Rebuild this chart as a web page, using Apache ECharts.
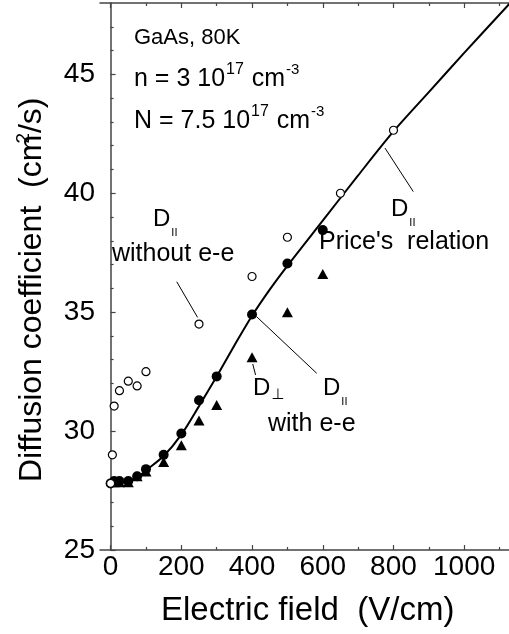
<!DOCTYPE html>
<html><head><meta charset="utf-8">
<script src="https://cdn.jsdelivr.net/npm/echarts@6/dist/echarts.min.js"></script>
<style>html,body{margin:0;padding:0;background:#fff}#c{width:509px;height:634px}</style>
</head><body><div id="c"></div>
<script>
// ---- data ----
const xMajorTicks = [0, 200, 400, 600, 800, 1000];
const xMinorTicks = [100, 300, 500, 700, 900, 1100];
const yMajorTicks = [25, 30, 35, 40, 45];
const yMinorTicks = [26,27,28,29,31,32,33,34,36,37,38,39,41,42,43,44,46,47];

const fieldNoEE = [0, 5, 10, 25, 50, 75, 100, 250, 400, 500, 650, 800];
const dParNoEE  = [27.8, 29.0, 31.05, 31.7, 32.1, 31.9, 32.5, 34.5, 36.5, 38.15, 40.0, 42.65];

const fieldParEE = [0, 10, 25, 50, 75, 100, 150, 200, 250, 300, 400, 500, 600];
const dParEE     = [27.8, 27.9, 27.9, 27.9, 28.1, 28.4, 29.0, 29.9, 31.3, 32.3, 34.9, 37.05, 38.45];

const fieldPerpEE = [10, 25, 50, 75, 100, 150, 200, 250, 300, 400, 500, 600];
const dPerpEE     = [27.85, 27.85, 27.85, 28.1, 28.3, 28.7, 29.4, 30.45, 31.1, 33.1, 35.0, 36.6];

const fieldPrice = [0, 25, 50, 75, 100, 150, 200, 250, 300, 350, 400, 450, 500, 600, 700, 800, 900, 1000, 1130];
const dPrice     = [27.75, 27.8, 27.9, 28.05, 28.35, 28.95, 29.85, 31.05, 32.3, 33.6, 34.85, 35.95, 36.95, 38.85, 40.75, 42.6, 44.25, 45.9, 48.0];

const zip = (a, b) => a.map((v, i) => [v, b[i]]);

// ---- text helpers ----
const FONT = '"Liberation Sans", Arial, sans-serif';
const cv = document.createElement('canvas').getContext('2d');
function tw(t, fs, fam) { cv.font = fs + 'px ' + (fam || FONT); return cv.measureText(t).width; }
// parts: [text, fontSize, baselineShift, extraDx, family]
function runs(parts, x0, base) {
  const out = [];
  let x = x0;
  parts.forEach(p => {
    const [t, fs, dy = 0, dx = 0, fam] = p;
    x += dx;
    out.push({
      type: 'text', x: x, y: base + dy - 0.35 * fs, silent: true,
      style: { text: t, fontSize: fs, fontFamily: fam || FONT, fill: '#000', align: 'left', verticalAlign: 'middle' }
    });
    x += tw(t, fs, fam);
  });
  return out;
}

const axisCol = '#444';
const tickStyle = { color: axisCol, width: 1.2 };

const graphics = [].concat(
  runs([['GaAs, 80K', 22]], 134, 46),
  runs([['n = 3 10', 25], ['17', 16, -13, 1], [' cm', 25, 0, 1], ['-3', 15, -13, 1]], 134, 88),
  runs([['N = 7.5 10', 25], ['17', 16, -13, 1], [' cm', 25, 0, 1], ['-3', 15, -13, 1]], 134, 130),
  runs([['D', 24], ['II', 11, 9, 1]], 153, 228),
  runs([['without e-e', 25]], 112, 263),
  runs([['D', 24], ['II', 11, 9, 1]], 391, 218),
  runs([["Price's  relation", 25]], 319, 251),
  runs([['D', 24], ['\u22A5', 15, 3, 1, '"DejaVu Sans", sans-serif']], 253, 397),
  runs([['D', 24], ['II', 11, 9, 1]], 323, 397),
  runs([['with e-e', 25]], 268, 433),
  runs([['Electric field  (V/cm)', 33]], 161, 622)
);
// rotated y-axis title
const yTitleParts = runs([['Diffusion coefficient  (cm', 32], ['2', 19, -13, -9], ['/s)', 32, 0, 0]], 0, 0);
graphics.push({ type: 'group', x: 43, y: 482, rotation: Math.PI / 2, children: yTitleParts });

const chart = echarts.init(document.getElementById('c'), null, { renderer: 'canvas' });
const xBase = { type: 'value', min: -30, max: 1155, splitLine: { show: false }, gridIndex: 0 };
const plain = v => String(v);
chart.setOption({
  animation: false,
  backgroundColor: '#fff',
  grid: { left: 100, top: 3, width: 419, height: 547, outerBoundsMode: 'none', containLabel: false },
  xAxis: [
    Object.assign({}, xBase, {
      position: 'bottom',
      axisLine: { show: true, lineStyle: { color: axisCol, width: 1.5 } },
      axisTick: { show: true, inside: true, length: 5, lineStyle: tickStyle, customValues: xMajorTicks },
      axisLabel: { show: true, customValues: xMajorTicks, formatter: plain, fontSize: 28, fontFamily: FONT, color: '#000', margin: 3 }
    }),
    Object.assign({}, xBase, {
      position: 'bottom',
      axisLine: { show: false },
      axisTick: { show: true, inside: true, length: 3, lineStyle: tickStyle, customValues: xMinorTicks },
      axisLabel: { show: false }
    }),
    Object.assign({}, xBase, {
      position: 'top',
      axisLine: { show: true, lineStyle: { color: axisCol, width: 1.5 } },
      axisTick: { show: true, inside: true, length: 5, lineStyle: tickStyle, customValues: xMajorTicks },
      axisLabel: { show: false }
    }),
    Object.assign({}, xBase, {
      position: 'top',
      axisLine: { show: false },
      axisTick: { show: true, inside: true, length: 3, lineStyle: tickStyle, customValues: xMinorTicks },
      axisLabel: { show: false }
    })
  ],
  yAxis: [
    {
      type: 'value', min: 25, max: 48, position: 'left',
      splitLine: { show: false },
      axisLine: { show: true, lineStyle: { color: axisCol, width: 1.5 } },
      axisTick: { show: true, inside: true, length: 5, lineStyle: tickStyle, customValues: yMajorTicks },
      axisLabel: { show: true, customValues: yMajorTicks, formatter: plain, fontSize: 28, fontFamily: FONT, color: '#000', margin: 5 }
    },
    {
      type: 'value', min: 25, max: 48, position: 'left',
      splitLine: { show: false },
      axisLine: { show: false },
      axisTick: { show: true, inside: true, length: 3, lineStyle: tickStyle, customValues: yMinorTicks },
      axisLabel: { show: false }
    }
  ],
  series: [
    {
      name: "Price's relation", type: 'line', data: zip(fieldPrice, dPrice),
      smooth: 0.3, showSymbol: false, symbol: 'none',
      lineStyle: { color: '#000', width: 2 }, z: 2, silent: true
    },
    {
      name: 'D perp with e-e', type: 'scatter', data: zip(fieldPerpEE, dPerpEE),
      symbol: 'triangle', symbolSize: [11, 10], itemStyle: { color: '#000', opacity: 1 }, z: 3, silent: true
    },
    {
      name: 'D par with e-e', type: 'scatter', data: zip(fieldParEE, dParEE),
      symbol: 'circle', symbolSize: 10, itemStyle: { color: '#000', opacity: 1 }, z: 4, silent: true
    },
    {
      name: 'D par without e-e', type: 'scatter', data: zip(fieldNoEE, dParNoEE),
      symbol: 'circle', symbolSize: 8,
      itemStyle: { color: '#fff', borderColor: '#000', borderWidth: 1.2, opacity: 1 }, z: 5, silent: true,
      markLine: {
        silent: true, symbol: ['none', 'none'], label: { show: false },
        lineStyle: { color: '#000', width: 1, type: 'solid', opacity: 1 },
        emphasis: { disabled: true },
        data: [
          [{ coord: [187, 36.28] }, { coord: [246, 34.78] }],
          [{ coord: [776, 41.9] }, { coord: [856, 40.07] }],
          [{ coord: [413, 34.81] }, { coord: [583, 32.43] }],
          [{ coord: [402, 32.82] }, { coord: [410, 32.36] }]
        ]
      }
    }
  ],
  graphic: graphics
});
</script>
</body></html>
